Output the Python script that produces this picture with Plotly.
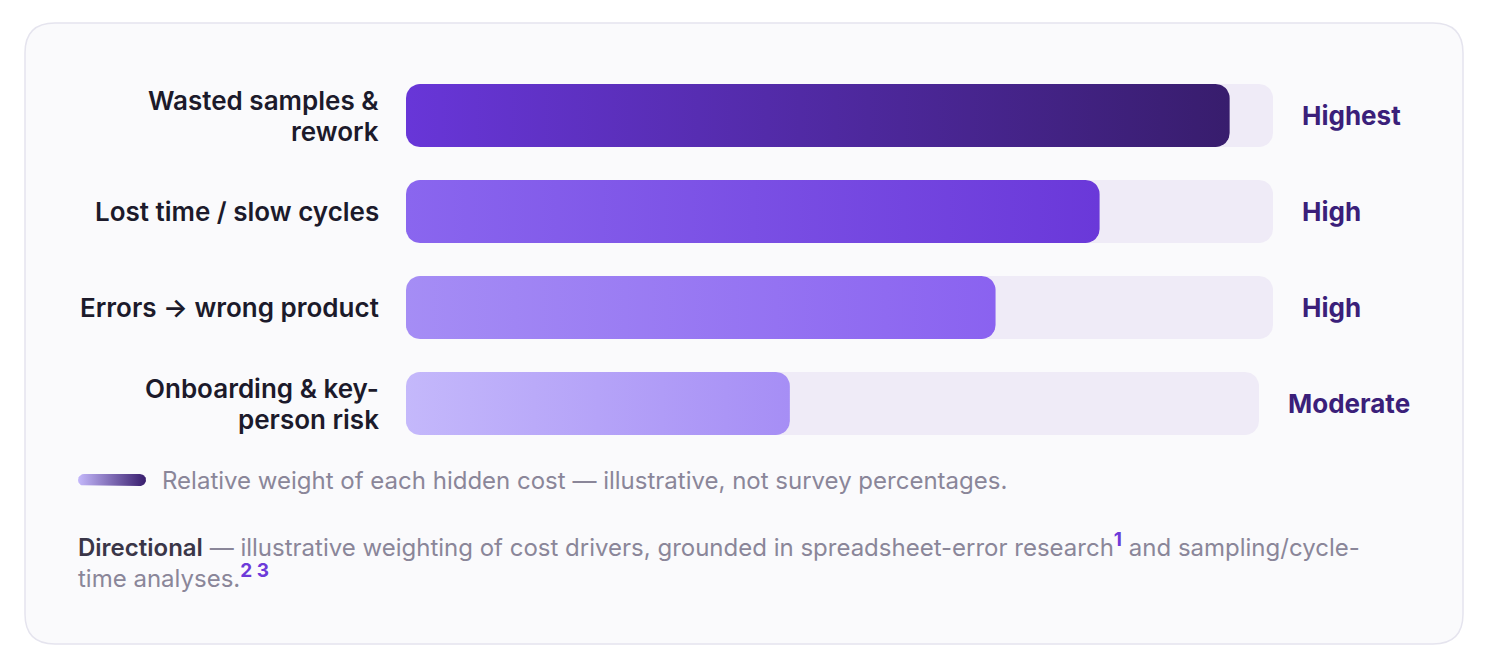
import math
import plotly.graph_objects as go

# ---------------- data ----------------
categories = ["Wasted samples &<br>rework", "Lost time / slow cycles",
              "Errors → wrong product", "Onboarding & key-<br>person risk"]
weights = [95, 80, 68, 45]          # relative weight (% of track)
level_labels = ["Highest", "High", "High", "Moderate"]
legend_text = "Relative weight of each hidden cost — illustrative, not survey percentages."

# ---------------- styling / layout ----------------
W, H = 1498, 664
OFF = 8  # page body margin offset
grad_colors = [("#6836d8", "#381d6d"), ("#8a66ef", "#6a38d9"),
               ("#a58df5", "#8a62f0"), ("#c4b8fb", "#a68ef5")]
TRACK_COLOR = "#efebf7"
CARD_BG = "#fafafc"
CARD_LINE = "#e5e4ee"
LABEL_COLOR = "#1c1a2b"
LEVEL_COLOR = "#3b1f7a"
MUTED = "#8a8699"
ACCENT = "#6d3ad9"
FONT = "Inter, 'Noto Sans', sans-serif"

track_x0 = 406
track_x1 = [1273, 1273, 1273, 1259]
row_top0 = 84
row_pitch = 96
bar_h = 63
radius = 14
line_gap = 31


def rrect(x0, x1, y0, y1, r, n=10):
    r = min(r, (x1 - x0) / 2, (y1 - y0) / 2)
    xs, ys = [], []
    corners = [((x0 + r, y0 + r), 180, 270), ((x1 - r, y0 + r), 270, 360),
               ((x1 - r, y1 - r), 0, 90), ((x0 + r, y1 - r), 90, 180)]
    for (cx, cy), a0, a1 in corners:
        for i in range(n + 1):
            t = math.radians(a0 + (a1 - a0) * i / n)
            xs.append(cx + r * math.cos(t))
            ys.append(cy + r * math.sin(t))
    xs.append(xs[0]); ys.append(ys[0])
    return xs, ys


fig = go.Figure()

# card background
cx0, cx1, cy0, cy1, cr = 25, 1463, 23, 644, 30
card_path = (f"M {cx0+cr},{cy0} L {cx1-cr},{cy0} Q {cx1},{cy0} {cx1},{cy0+cr} "
             f"L {cx1},{cy1-cr} Q {cx1},{cy1} {cx1-cr},{cy1} L {cx0+cr},{cy1} "
             f"Q {cx0},{cy1} {cx0},{cy1-cr} L {cx0},{cy0+cr} Q {cx0},{cy0} {cx0+cr},{cy0} Z")
fig.add_shape(type="path", path=card_path, xref="x", yref="y",
              fillcolor=CARD_BG, line=dict(color=CARD_LINE, width=1.5), layer="below")

annotations = []
for i, (cat, w, lvl) in enumerate(zip(categories, weights, level_labels)):
    y0 = row_top0 + i * row_pitch
    y1 = y0 + bar_h
    yc = (y0 + y1) / 2
    tx1 = track_x1[i]
    # track
    xs, ys = rrect(track_x0, tx1, y0, y1, radius)
    fig.add_trace(go.Scatter(x=xs, y=ys, mode="lines", fill="toself",
                             fillcolor=TRACK_COLOR, line=dict(width=0),
                             hoverinfo="skip", showlegend=False))
    # value bar
    bx1 = track_x0 + (tx1 - track_x0) * w / 100.0
    xs, ys = rrect(track_x0, bx1, y0, y1, radius)
    c0, c1 = grad_colors[i]
    fig.add_trace(go.Scatter(x=xs, y=ys, mode="lines", fill="toself",
                             fillgradient=dict(type="horizontal",
                                               colorscale=[[0, c0], [1, c1]]),
                             line=dict(width=0), name=cat.replace("<br>", " "),
                             hovertemplate=f"{cat.replace('<br>', ' ')}: {w}<extra></extra>",
                             showlegend=False))
    lines = cat.split("<br>")
    nl = len(lines)
    for k, ln in enumerate(lines):
        ly = yc + (k - (nl - 1) / 2) * line_gap
        annotations.append(dict(x=track_x0 - 25, y=ly, text=ln, xanchor="right",
                                yanchor="middle", align="right", showarrow=False,
                                font=dict(family=FONT, size=26, color=LABEL_COLOR, weight=600)))
    annotations.append(dict(x=tx1 + 27, y=yc, text=lvl, xanchor="left",
                            yanchor="middle", align="left", showarrow=False,
                            font=dict(family=FONT, size=26, color=LEVEL_COLOR, weight=700)))

# legend pill
xs, ys = rrect(78, 146, 474, 486, 6)
fig.add_trace(go.Scatter(x=xs, y=ys, mode="lines", fill="toself",
                         fillgradient=dict(type="horizontal",
                                           colorscale=[[0, grad_colors[3][0]], [1, grad_colors[0][1]]]),
                         line=dict(width=0), hoverinfo="skip", showlegend=False))
annotations.append(dict(x=160, y=480, text=legend_text, xanchor="left", yanchor="middle",
                        showarrow=False, font=dict(family=FONT, size=24, color=MUTED)))

sup_style = f"color:{ACCENT};font-weight:700;font-size:19px"
foot = (f"<span style='color:#3a3648;font-weight:600'>Directional</span> — illustrative weighting of cost drivers, "
        f"grounded in spreadsheet-error research<sup><span style='{sup_style}'>1</span></sup>"
        f" and sampling/cycle-<br>time analyses.<sup><span style='{sup_style}'>2 3</span></sup>")
annotations.append(dict(x=76, y=560, text=foot, xanchor="left", yanchor="middle", align="left",
                        showarrow=False, font=dict(family=FONT, size=24, color=MUTED)))

fig.update_layout(
    width=W, height=H, margin=dict(l=0, r=0, t=0, b=0),
    paper_bgcolor="white", plot_bgcolor="rgba(0,0,0,0)",
    xaxis=dict(range=[OFF, W + OFF], visible=False, fixedrange=True, domain=[0, 1]),
    yaxis=dict(range=[H + OFF, OFF], visible=False, fixedrange=True, domain=[0, 1]),
    annotations=annotations, showlegend=False,
)

fig.write_html("out.html", config={"displayModeBar": False})
